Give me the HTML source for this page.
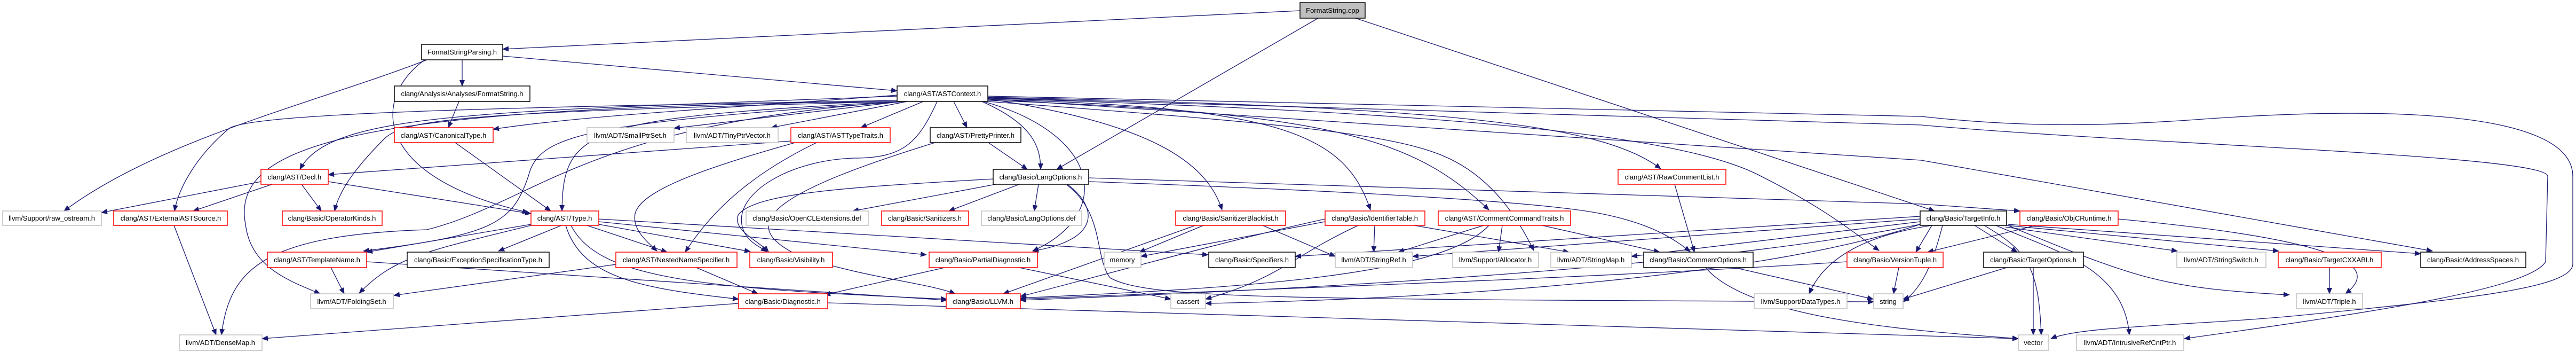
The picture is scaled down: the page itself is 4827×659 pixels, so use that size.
<!DOCTYPE html>
<html><head><meta charset="utf-8"><style>
html,body{margin:0;padding:0;background:#fff;}
svg{display:block;}
text{font-family:"Liberation Sans",sans-serif;font-size:13px;fill:#000;}
.e{fill:none;stroke:#191970;stroke-width:1.3;marker-end:url(#a);}
.r{fill:#fff;stroke:#ff0000;stroke-width:1.5;}
.b{fill:#fff;stroke:#000;stroke-width:1.5;}
.g{fill:#fff;stroke:#bfbfbf;stroke-width:1.5;}
</style></head><body>
<svg width="4827" height="659" viewBox="0 0 4827 659" xmlns="http://www.w3.org/2000/svg">
<defs><marker id="a" markerUnits="userSpaceOnUse" markerWidth="12" markerHeight="10" refX="11" refY="5" orient="auto"><path d="M0,0 L12,5 L0,10 z" fill="#191970"/></marker></defs>
<rect width="4827" height="659" fill="#fff"/>
<g>
<!-- edges -->
<path class="e" d="M2436,20 L942,92"/>
<path class="e" d="M2470,34 L1980,317"/>
<path class="e" d="M2540,34 L3625,395"/>
<path class="e" d="M942,105 L1681,170"/>
<path class="e" d="M866,112 L866,161"/>
<path class="e" d="M800,112 C600,190 300,260 120,395"/>
<path class="e" d="M796,112 C700,180 690,330 990,398"/>
<path class="e" d="M860,190 L840,239"/>
<path class="e" d="M853,267 L1032,395"/>
<path class="e" d="M1681,178 C1400,200 1100,215 924,242"/>
<path class="e" d="M1690,190 L1263,240"/>
<path class="e" d="M1700,190 L1445,239"/>
<path class="e" d="M1730,190 L1613,239"/>
<path class="e" d="M1787,190 L1812,239"/>
<path class="e" d="M1840,190 C1930,230 1950,270 1950,317"/>
<path class="e" d="M1681,180 C900,210 620,210 562,317"/>
<path class="e" d="M1681,188 C1000,200 480,210 430,240 C370,290 335,350 327,395"/>
<path class="e" d="M1681,190 C900,210 760,220 720,260 C660,320 635,360 627,395"/>
<path class="e" d="M1690,190 C1100,220 1055,240 1053,395"/>
<path class="e" d="M1690,190 C1100,230 1000,380 800,430 C500,440 430,500 415,627"/>
<path class="e" d="M1681,190 C700,200 430,260 460,420 C470,500 540,525 600,550"/>
<path class="e" d="M1700,190 C1100,230 1010,250 990,330 C960,420 920,440 681,470"/>
<path class="e" d="M1530,267 C1400,330 1330,400 1284,472"/>
<path class="e" d="M1490,267 C1300,320 1200,360 1190,400 C1185,430 1210,450 1231,470"/>
<path class="e" d="M1756,190 C1720,270 1690,296 1600,296 C1480,300 1380,360 1390,420 C1395,450 1420,460 1437,471"/>
<path class="e" d="M1843,190 C2060,250 2090,400 1935,470"/>
<path class="e" d="M1866,345 L1598,395"/>
<path class="e" d="M1910,345 L1778,395"/>
<path class="e" d="M1946,345 L1938,395"/>
<path class="e" d="M1861,335 C1600,350 1420,360 1384,401 C1370,430 1420,450 1440,471"/>
<path class="e" d="M2000,345 C2060,390 2060,450 1935,470"/>
<path class="e" d="M1999,346 C2070,400 2050,480 2080,520 C2150,560 2400,560 3511,565"/>
<path class="e" d="M2040,333 L3600,382 L3785,395"/>
<path class="e" d="M2040,340 C2600,360 2900,380 3000,400 C3100,420 3140,450 3167,471"/>
<path class="e" d="M1850,185 C2150,230 2260,300 2290,393"/>
<path class="e" d="M1851,186 C2400,200 2520,250 2568,393"/>
<path class="e" d="M1851,188 C2500,210 2650,260 2790,393"/>
<path class="e" d="M1851,190 C2400,230 2600,250 2700,290 C2800,330 2850,420 2874,469"/>
<path class="e" d="M1851,182 C2700,200 3000,230 3112,316"/>
<path class="e" d="M1851,184 C2700,210 3150,250 3300,330 C3420,390 3480,440 3521,469"/>
<path class="e" d="M1851,185 L3600,300 L4558,470"/>
<path class="e" d="M1851,180 L3600,218 C3800,240 3950,235 4100,225 C4300,210 4821,180 4821,330 L4821,494 C4821,540 4617,560 4304,591 C4100,610 3900,610 3843,634"/>
<path class="e" d="M1851,183 L3600,234 C4000,270 4774,290 4774,330 L4770,490 C4740,540 4461,583 4093,634"/>
<path class="e" d="M995,420 L687,472"/>
<path class="e" d="M1052,422 L934,470"/>
<path class="e" d="M995,422 C800,470 740,480 673,549"/>
<path class="e" d="M1100,422 L1250,472"/>
<path class="e" d="M1060,422 C1090,520 1200,540 1384,560"/>
<path class="e" d="M1070,422 C1120,520 1300,540 1774,560"/>
<path class="e" d="M1122,415 L1736,477"/>
<path class="e" d="M1122,410 L2264,477"/>
<path class="e" d="M1122,420 L1406,471"/>
<path class="e" d="M620,501 L645,550"/>
<path class="e" d="M687,490 L1774,562"/>
<path class="e" d="M1154,495 L738,553"/>
<path class="e" d="M1305,501 L1420,550"/>
<path class="e" d="M1770,501 L1545,552"/>
<path class="e" d="M1910,501 L2194,560"/>
<path class="e" d="M1384,568 L491,634"/>
<path class="e" d="M1551,567 L3782,634"/>
<path class="e" d="M326,422 L405,627"/>
<path class="e" d="M489,340 L190,398"/>
<path class="e" d="M510,345 L362,395"/>
<path class="e" d="M565,345 L602,395"/>
<path class="e" d="M615,340 L995,400"/>
<path class="e" d="M1482,264 L615,327"/>
<path class="e" d="M1852,267 L1925,317"/>
<path class="e" d="M1752,267 C1450,360 1370,420 1500,480 C1620,520 1740,530 1790,550"/>
<path class="e" d="M2255,422 L2135,472"/>
<path class="e" d="M2240,422 L1880,550"/>
<path class="e" d="M2366,422 L2502,480"/>
<path class="e" d="M2576,422 L2574,472"/>
<path class="e" d="M2650,422 L2940,472"/>
<path class="e" d="M2483,410 C2300,450 2050,520 1912,555"/>
<path class="e" d="M2545,422 C2420,480 2400,520 2259,560"/>
<path class="e" d="M2483,415 L2138,480"/>
<path class="e" d="M2780,422 L2620,472"/>
<path class="e" d="M2815,422 L2808,472"/>
<path class="e" d="M2890,422 L3110,472"/>
<path class="e" d="M2790,422 C2700,520 2300,540 1912,558"/>
<path class="e" d="M3138,345 L3175,472"/>
<path class="e" d="M3250,501 L3510,560"/>
<path class="e" d="M3196,501 C3280,600 3600,620 3782,634"/>
<path class="e" d="M3620,422 L3590,472"/>
<path class="e" d="M3640,422 C3620,500 3600,540 3566,565"/>
<path class="e" d="M3598,410 L2647,480"/>
<path class="e" d="M3598,415 L3057,480"/>
<path class="e" d="M3598,405 L2427,480"/>
<path class="e" d="M3598,420 C3200,500 2500,540 1912,562"/>
<path class="e" d="M3598,420 C3300,520 2700,560 2259,568"/>
<path class="e" d="M3620,422 C3500,440 3420,480 3390,550"/>
<path class="e" d="M3700,422 L3780,472"/>
<path class="e" d="M3718,422 C3800,470 3820,500 3825,627"/>
<path class="e" d="M3740,422 C3850,470 3980,500 3990,627"/>
<path class="e" d="M3758,425 L4080,470"/>
<path class="e" d="M3760,422 L4270,470"/>
<path class="e" d="M3762,420 L4536,475"/>
<path class="e" d="M3762,422 C4000,520 4050,540 4290,552"/>
<path class="e" d="M3815,422 L3612,472"/>
<path class="e" d="M3969,410 C4400,450 4460,500 4395,550"/>
<path class="e" d="M3558,501 L3548,550"/>
<path class="e" d="M3461,490 C3000,520 2400,540 1912,560"/>
<path class="e" d="M3810,501 L3810,627"/>
<path class="e" d="M3760,501 L3566,560"/>
<path class="e" d="M4365,501 L4365,550"/>
</g>
<g>
<rect x="2436" y="5" width="122" height="29" fill="#bfbfbf" stroke="#000" stroke-width="1.5"/><text x="2497" y="24" text-anchor="middle">FormatString.cpp</text>
<rect class="b" x="790" y="83" width="152" height="29"/><text x="866" y="102" text-anchor="middle">FormatStringParsing.h</text>
<rect class="b" x="739" y="161" width="254" height="29"/><text x="866" y="180" text-anchor="middle">clang/Analysis/Analyses/FormatString.h</text>
<rect class="b" x="1681" y="161" width="170" height="29"/><text x="1766" y="180" text-anchor="middle">clang/AST/ASTContext.h</text>
<rect class="r" x="739" y="239" width="185" height="28"/><text x="831" y="258" text-anchor="middle">clang/AST/CanonicalType.h</text>
<rect class="g" x="1100" y="239" width="163" height="28"/><text x="1181" y="258" text-anchor="middle">llvm/ADT/SmallPtrSet.h</text>
<rect class="g" x="1286" y="239" width="172" height="28"/><text x="1372" y="258" text-anchor="middle">llvm/ADT/TinyPtrVector.h</text>
<rect class="r" x="1482" y="239" width="186" height="28"/><text x="1575" y="258" text-anchor="middle">clang/AST/ASTTypeTraits.h</text>
<rect class="b" x="1743" y="239" width="170" height="28"/><text x="1828" y="258" text-anchor="middle">clang/AST/PrettyPrinter.h</text>
<rect class="r" x="489" y="317" width="126" height="28"/><text x="552" y="336" text-anchor="middle">clang/AST/Decl.h</text>
<rect class="b" x="1861" y="317" width="179" height="28"/><text x="1950" y="336" text-anchor="middle">clang/Basic/LangOptions.h</text>
<rect class="r" x="3032" y="317" width="202" height="28"/><text x="3133" y="336" text-anchor="middle">clang/AST/RawCommentList.h</text>
<rect class="g" x="5" y="395" width="185" height="27"/><text x="97" y="413" text-anchor="middle">llvm/Support/raw_ostream.h</text>
<rect class="r" x="213" y="395" width="213" height="27"/><text x="320" y="413" text-anchor="middle">clang/AST/ExternalASTSource.h</text>
<rect class="r" x="529" y="395" width="187" height="27"/><text x="622" y="413" text-anchor="middle">clang/Basic/OperatorKinds.h</text>
<rect class="r" x="995" y="395" width="127" height="27"/><text x="1058" y="413" text-anchor="middle">clang/AST/Type.h</text>
<rect class="g" x="1398" y="395" width="229" height="27"/><text x="1512" y="413" text-anchor="middle">clang/Basic/OpenCLExtensions.def</text>
<rect class="r" x="1652" y="395" width="163" height="27"/><text x="1733" y="413" text-anchor="middle">clang/Basic/Sanitizers.h</text>
<rect class="g" x="1839" y="395" width="188" height="27"/><text x="1933" y="413" text-anchor="middle">clang/Basic/LangOptions.def</text>
<rect class="r" x="2203" y="395" width="206" height="27"/><text x="2306" y="413" text-anchor="middle">clang/Basic/SanitizerBlacklist.h</text>
<rect class="r" x="2483" y="395" width="187" height="27"/><text x="2576" y="413" text-anchor="middle">clang/Basic/IdentifierTable.h</text>
<rect class="r" x="2695" y="395" width="248" height="27"/><text x="2819" y="413" text-anchor="middle">clang/AST/CommentCommandTraits.h</text>
<rect class="b" x="3598" y="395" width="162" height="27"/><text x="3679" y="413" text-anchor="middle">clang/Basic/TargetInfo.h</text>
<rect class="r" x="3785" y="395" width="184" height="27"/><text x="3877" y="413" text-anchor="middle">clang/Basic/ObjCRuntime.h</text>
<rect class="r" x="501" y="472" width="186" height="29"/><text x="594" y="491" text-anchor="middle">clang/AST/TemplateName.h</text>
<rect class="b" x="763" y="472" width="266" height="29"/><text x="896" y="491" text-anchor="middle">clang/Basic/ExceptionSpecificationType.h</text>
<rect class="r" x="1154" y="472" width="227" height="29"/><text x="1267" y="491" text-anchor="middle">clang/AST/NestedNameSpecifier.h</text>
<rect class="r" x="1405" y="472" width="155" height="29"/><text x="1482" y="491" text-anchor="middle">clang/Basic/Visibility.h</text>
<rect class="r" x="1741" y="472" width="203" height="29"/><text x="1842" y="491" text-anchor="middle">clang/Basic/PartialDiagnostic.h</text>
<rect class="g" x="2069" y="472" width="69" height="29"/><text x="2103" y="491" text-anchor="middle">memory</text>
<rect class="b" x="2265" y="472" width="162" height="29"/><text x="2346" y="491" text-anchor="middle">clang/Basic/Specifiers.h</text>
<rect class="g" x="2502" y="472" width="145" height="29"/><text x="2574" y="491" text-anchor="middle">llvm/ADT/StringRef.h</text>
<rect class="g" x="2722" y="472" width="161" height="29"/><text x="2802" y="491" text-anchor="middle">llvm/Support/Allocator.h</text>
<rect class="g" x="2906" y="472" width="151" height="29"/><text x="2981" y="491" text-anchor="middle">llvm/ADT/StringMap.h</text>
<rect class="b" x="3080" y="472" width="205" height="29"/><text x="3182" y="491" text-anchor="middle">clang/Basic/CommentOptions.h</text>
<rect class="r" x="3461" y="472" width="180" height="29"/><text x="3551" y="491" text-anchor="middle">clang/Basic/VersionTuple.h</text>
<rect class="b" x="3717" y="472" width="187" height="29"/><text x="3810" y="491" text-anchor="middle">clang/Basic/TargetOptions.h</text>
<rect class="g" x="4079" y="472" width="167" height="29"/><text x="4162" y="491" text-anchor="middle">llvm/ADT/StringSwitch.h</text>
<rect class="r" x="4269" y="472" width="193" height="29"/><text x="4365" y="491" text-anchor="middle">clang/Basic/TargetCXXABI.h</text>
<rect class="b" x="4536" y="472" width="197" height="29"/><text x="4634" y="491" text-anchor="middle">clang/Basic/AddressSpaces.h</text>
<rect class="g" x="582" y="550" width="155" height="28"/><text x="659" y="569" text-anchor="middle">llvm/ADT/FoldingSet.h</text>
<rect class="r" x="1384" y="550" width="167" height="28"/><text x="1467" y="569" text-anchor="middle">clang/Basic/Diagnostic.h</text>
<rect class="r" x="1773" y="550" width="139" height="28"/><text x="1842" y="569" text-anchor="middle">clang/Basic/LLVM.h</text>
<rect class="g" x="2194" y="550" width="65" height="28"/><text x="2226" y="569" text-anchor="middle">cassert</text>
<rect class="g" x="3287" y="550" width="174" height="28"/><text x="3374" y="569" text-anchor="middle">llvm/Support/DataTypes.h</text>
<rect class="g" x="3511" y="550" width="55" height="28"/><text x="3538" y="569" text-anchor="middle">string</text>
<rect class="g" x="4303" y="550" width="124" height="28"/><text x="4365" y="569" text-anchor="middle">llvm/ADT/Triple.h</text>
<rect class="g" x="336" y="627" width="155" height="29"/><text x="413" y="646" text-anchor="middle">llvm/ADT/DenseMap.h</text>
<rect class="g" x="3782" y="627" width="57" height="29"/><text x="3810" y="646" text-anchor="middle">vector</text>
<rect class="g" x="3891" y="627" width="201" height="29"/><text x="3991" y="646" text-anchor="middle">llvm/ADT/IntrusiveRefCntPtr.h</text>
</g>
</svg>
</body></html>
